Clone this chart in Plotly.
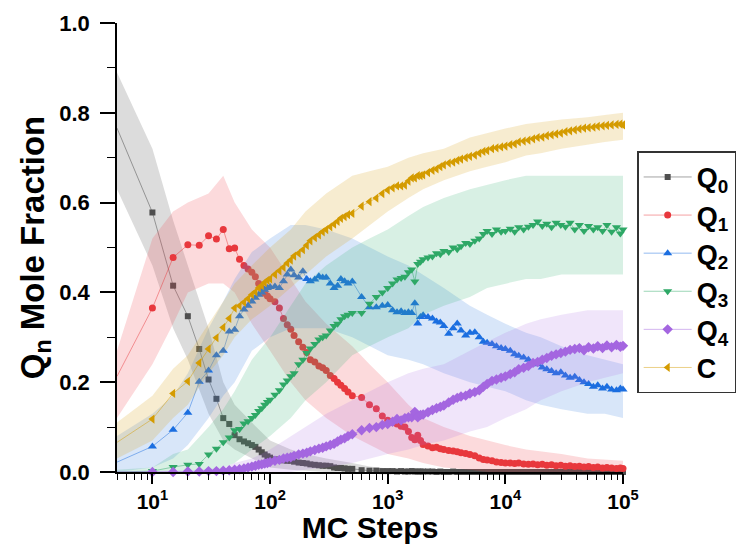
import math
import plotly.graph_objects as go

# ---------------- data ----------------
steps = [5, 10, 15, 20, 25, 30, 35, 40, 45, 50,
         55, 60, 65, 70, 75, 80, 85, 90, 95, 100,
         110, 120, 130, 140, 150, 160, 175, 190, 205, 220,
         240, 260, 280, 300, 325, 350, 375, 400, 430, 460, 500,
         600, 700, 800, 900, 1000, 1100, 1200, 1300, 1400, 1500, 1600, 1700, 1800, 1900, 2000,
         2200, 2400, 2600, 2800, 3000, 3300, 3600, 3900, 4200, 4600, 5000, 5500, 6000, 6500,
         7000, 7700, 8400, 9200, 10000,
         11000, 12000, 13000, 14300, 15700, 17200, 18800, 20600, 22500, 24700, 27000, 29600,
         32400, 35500, 38900, 42600, 46600, 51000, 56000, 61000, 67000, 73000, 80000, 88000,
         95000, 100000]

q0 = [0.766, 0.578, 0.415, 0.347, 0.274, 0.206, 0.163, 0.120, 0.107, 0.082,
      0.073, 0.068, 0.064, 0.060, 0.056, 0.050, 0.044, 0.039, 0.035, 0.032,
      0.028, 0.027, 0.026, 0.025, 0.025, 0.023, 0.021, 0.020, 0.019, 0.017,
      0.016, 0.015, 0.014, 0.014, 0.013, 0.010, 0.009, 0.009, 0.008, 0.007, 0.007,
      0.004, 0.003, 0.003, 0.002, 0.002, 0.002, 0.001, 0.002, 0.001, 0.001, 0.002, 0.001, 0.001, 0.001, 0.001,
      0.001, 0.001, 0.000, 0.001, 0.000, 0.000, 0.001, 0.000, 0.000, 0.000, 0.000, 0.000, 0.000, 0.000,
      0.000, 0.000, 0.000, 0.000, 0.000,
      0.000, 0.000, 0.000, 0.000, 0.000, 0.000, 0.000, 0.000, 0.000, 0.000, 0.000, 0.000,
      0.000, 0.000, 0.000, 0.000, 0.000, 0.000, 0.000, 0.000, 0.000, 0.000, 0.000, 0.000,
      0.000, 0.000]

q1 = [0.213, 0.365, 0.478, 0.506, 0.505, 0.526, 0.519, 0.540, 0.497, 0.499,
      0.474, 0.460, 0.452, 0.445, 0.435, 0.420, 0.410, 0.398, 0.392, 0.386,
      0.379, 0.365, 0.342, 0.328, 0.318, 0.304, 0.290, 0.278, 0.266, 0.250,
      0.245, 0.236, 0.232, 0.226, 0.215, 0.208, 0.200, 0.193, 0.186, 0.178, 0.170,
      0.166, 0.150, 0.141, 0.125, 0.115, 0.110, 0.107, 0.102, 0.100, 0.090, 0.077, 0.072, 0.082, 0.070, 0.061,
      0.058, 0.054, 0.055, 0.052, 0.050, 0.048, 0.047, 0.045, 0.043, 0.041, 0.039, 0.036, 0.031, 0.028,
      0.027, 0.025, 0.022, 0.021, 0.020,
      0.020, 0.019, 0.020, 0.018, 0.017, 0.018, 0.016, 0.017, 0.015, 0.016, 0.014, 0.015,
      0.013, 0.014, 0.012, 0.013, 0.011, 0.012, 0.010, 0.011, 0.009, 0.010, 0.009, 0.008,
      0.009, 0.008]

q2 = [0.022, 0.057, 0.094, 0.132, 0.201, 0.226, 0.260, 0.270, 0.313, 0.317,
      0.347, 0.362, 0.370, 0.380, 0.388, 0.395, 0.400, 0.406, 0.410, 0.412,
      0.413, 0.410, 0.425, 0.440, 0.451, 0.438, 0.433, 0.447, 0.430, 0.425,
      0.429, 0.436, 0.433, 0.433, 0.420, 0.410, 0.415, 0.430, 0.425, 0.420, 0.424,
      0.390, 0.367, 0.367, 0.370, 0.372, 0.360, 0.356, 0.358, 0.354, 0.356, 0.354, 0.376, 0.331, 0.345, 0.349,
      0.345, 0.342, 0.335, 0.333, 0.325, 0.308, 0.320, 0.331, 0.315, 0.304, 0.310, 0.311, 0.300, 0.290,
      0.288, 0.285, 0.280, 0.276, 0.274,
      0.270, 0.262, 0.259, 0.255, 0.250, 0.243, 0.240, 0.233, 0.229, 0.225, 0.220, 0.222,
      0.215, 0.210, 0.212, 0.205, 0.200, 0.196, 0.190, 0.193, 0.186, 0.190, 0.184, 0.182,
      0.186, 0.184]

q3 = [0.000, 0.002, 0.011, 0.016, 0.018, 0.039, 0.052, 0.066, 0.077, 0.093,
      0.096, 0.108, 0.113, 0.120, 0.127, 0.136, 0.142, 0.150, 0.156, 0.161,
      0.172, 0.182, 0.195, 0.204, 0.213, 0.220, 0.240, 0.250, 0.265, 0.275,
      0.285, 0.295, 0.300, 0.304, 0.315, 0.325, 0.330, 0.340, 0.347, 0.350, 0.354,
      0.354, 0.375, 0.390, 0.400, 0.410, 0.420, 0.429, 0.432, 0.435, 0.445, 0.451, 0.424, 0.463, 0.468, 0.474,
      0.478, 0.480, 0.487, 0.485, 0.492, 0.490, 0.500, 0.496, 0.503, 0.510, 0.508, 0.515, 0.520, 0.530,
      0.537, 0.530, 0.540, 0.535, 0.537,
      0.542, 0.535, 0.545, 0.540, 0.546, 0.550, 0.558, 0.548, 0.553, 0.545, 0.555, 0.550,
      0.546, 0.555, 0.540, 0.550, 0.537, 0.548, 0.540, 0.545, 0.537, 0.550, 0.535, 0.545,
      0.531, 0.540]

q4 = [0.000, 0.000, 0.000, 0.001, 0.001, 0.002, 0.002, 0.003, 0.004, 0.005,
      0.006, 0.008, 0.010, 0.012, 0.014, 0.016, 0.017, 0.019, 0.020, 0.022,
      0.025, 0.027, 0.030, 0.032, 0.033, 0.036, 0.039, 0.041, 0.043, 0.046,
      0.049, 0.052, 0.054, 0.057, 0.060, 0.063, 0.068, 0.072, 0.075, 0.080, 0.084,
      0.093, 0.098, 0.100, 0.105, 0.107, 0.112, 0.118, 0.115, 0.120, 0.122, 0.122, 0.134, 0.122, 0.127, 0.128,
      0.133, 0.138, 0.142, 0.145, 0.148, 0.155, 0.161, 0.165, 0.168, 0.170, 0.175, 0.178, 0.182, 0.190,
      0.196, 0.203, 0.206, 0.210, 0.213,
      0.218, 0.222, 0.229, 0.232, 0.236, 0.243, 0.245, 0.250, 0.254, 0.259, 0.262, 0.265,
      0.268, 0.272, 0.274, 0.276, 0.271, 0.278, 0.275, 0.280, 0.276, 0.282, 0.278, 0.283,
      0.279, 0.281]

cc = [0.066, 0.118, 0.175, 0.202, 0.243, 0.274, 0.299, 0.322, 0.342, 0.365,
      0.370, 0.378, 0.386, 0.395, 0.401, 0.410, 0.415, 0.422, 0.427, 0.430,
      0.440, 0.448, 0.456, 0.465, 0.472, 0.481, 0.487, 0.495, 0.505, 0.515,
      0.522, 0.528, 0.535, 0.540, 0.546, 0.552, 0.558, 0.565, 0.569, 0.573, 0.576,
      0.592, 0.602, 0.610, 0.620, 0.628, 0.633, 0.637, 0.637, 0.639, 0.648, 0.655, 0.655, 0.660, 0.660, 0.662,
      0.667, 0.672, 0.675, 0.680, 0.684, 0.688, 0.690, 0.694, 0.697, 0.700, 0.703, 0.706, 0.710, 0.714,
      0.716, 0.720, 0.722, 0.724, 0.726,
      0.729, 0.731, 0.735, 0.737, 0.739, 0.742, 0.745, 0.746, 0.749, 0.751, 0.753, 0.755,
      0.758, 0.760, 0.762, 0.764, 0.766, 0.767, 0.768, 0.770, 0.771, 0.772, 0.773, 0.774,
      0.775, 0.773]

# spread bands (lower / upper envelope)
band_steps = [5, 10, 15, 20, 30, 40, 50, 70, 100, 150, 200, 300, 500, 700, 1000, 1500,
              2000, 3000, 5000, 7000, 10000, 15000, 20000, 30000, 50000, 70000, 100000]

q0_lo = [0.63, 0.46, 0.32, 0.25, 0.13, 0.07, 0.05, 0.03, 0.01, 0.005, 0.003, 0, 0, 0, 0, 0,
         0, 0, 0, 0, 0, 0, 0, 0, 0, 0, 0]
q0_hi = [0.89, 0.72, 0.56, 0.46, 0.32, 0.20, 0.15, 0.11, 0.07, 0.05, 0.04, 0.03, 0.02, 0.012, 0.008, 0.006,
         0.005, 0.004, 0.003, 0.002, 0.002, 0.002, 0.001, 0.001, 0.001, 0.001, 0.001]

q1_lo = [0.12, 0.24, 0.33, 0.40, 0.42, 0.42, 0.40, 0.33, 0.27, 0.20, 0.16, 0.12, 0.08, 0.06, 0.04, 0.03,
         0.02, 0.01, 0.005, 0, 0, 0, 0, 0, 0, 0, 0]
q1_hi = [0.27, 0.52, 0.58, 0.60, 0.62, 0.66, 0.60, 0.54, 0.50, 0.43, 0.38, 0.33, 0.28, 0.24, 0.20, 0.15,
         0.12, 0.10, 0.08, 0.07, 0.06, 0.05, 0.045, 0.04, 0.03, 0.028, 0.025]

q2_lo = [0.0, 0.01, 0.03, 0.06, 0.12, 0.17, 0.20, 0.27, 0.30, 0.32, 0.32, 0.32, 0.30, 0.28, 0.26, 0.25,
         0.24, 0.22, 0.20, 0.19, 0.18, 0.16, 0.15, 0.14, 0.13, 0.13, 0.12]
q2_hi = [0.08, 0.13, 0.17, 0.22, 0.32, 0.38, 0.43, 0.49, 0.52, 0.55, 0.55, 0.54, 0.52, 0.50, 0.48, 0.46,
         0.44, 0.41, 0.37, 0.35, 0.33, 0.31, 0.30, 0.28, 0.26, 0.25, 0.24]

q3_lo = [0, 0, 0, 0, 0, 0.01, 0.02, 0.05, 0.08, 0.12, 0.16, 0.20, 0.26, 0.28, 0.30, 0.32,
         0.35, 0.37, 0.39, 0.41, 0.42, 0.43, 0.43, 0.44, 0.44, 0.44, 0.44]
q3_hi = [0.005, 0.01, 0.04, 0.05, 0.10, 0.14, 0.18, 0.25, 0.30, 0.37, 0.42, 0.46, 0.50, 0.52, 0.54, 0.57,
         0.59, 0.61, 0.63, 0.64, 0.65, 0.66, 0.66, 0.66, 0.66, 0.66, 0.66]

q4_lo = [0, 0, 0, 0, 0, 0, 0, 0, 0, 0, 0.005, 0.01, 0.02, 0.03, 0.04, 0.05,
         0.06, 0.07, 0.09, 0.10, 0.12, 0.14, 0.16, 0.18, 0.20, 0.21, 0.22]
q4_hi = [0.002, 0.002, 0.003, 0.004, 0.006, 0.01, 0.02, 0.03, 0.05, 0.08, 0.10, 0.13, 0.16, 0.18, 0.20, 0.22,
         0.23, 0.24, 0.27, 0.29, 0.31, 0.33, 0.34, 0.35, 0.36, 0.36, 0.36]

cc_lo = [0.03, 0.07, 0.12, 0.15, 0.22, 0.26, 0.30, 0.34, 0.37, 0.41, 0.44, 0.48, 0.52, 0.55, 0.58, 0.61,
         0.63, 0.65, 0.67, 0.68, 0.69, 0.705, 0.71, 0.72, 0.73, 0.735, 0.74]
cc_hi = [0.11, 0.17, 0.23, 0.26, 0.33, 0.38, 0.42, 0.46, 0.50, 0.54, 0.58, 0.62, 0.66, 0.67, 0.68, 0.70,
         0.71, 0.72, 0.745, 0.755, 0.765, 0.775, 0.78, 0.785, 0.79, 0.795, 0.80]

series_names = ["Q<sub>0</sub>", "Q<sub>1</sub>", "Q<sub>2</sub>", "Q<sub>3</sub>", "Q<sub>4</sub>", "C"]

x_tick_vals = [10, 100, 1000, 10000, 100000]
x_tick_text = ["10<sup>1</sup>", "10<sup>2</sup>", "10<sup>3</sup>", "10<sup>4</sup>", "10<sup>5</sup>"]
y_tick_vals = [0.0, 0.2, 0.4, 0.6, 0.8, 1.0]
y_tick_text = ["0.0", "0.2", "0.4", "0.6", "0.8", "1.0"]

# ---------------- styling ----------------
FONT = "Liberation Sans, Arial, sans-serif"
styles = [
    # marker color, line color, band color, symbol, size
    ("#4f4f4f", "rgba(90,90,90,0.7)", "rgba(140,140,140,0.30)", "square", 6),
    ("#e8383d", "rgba(232,56,61,0.6)", "rgba(240,70,80,0.20)", "circle", 7),
    ("#1b6ee0", "rgba(27,110,224,0.6)", "rgba(60,130,225,0.20)", "triangle-up", 8),
    ("#2ea866", "rgba(46,168,102,0.6)", "rgba(60,180,120,0.20)", "triangle-down", 8),
    ("#a466e0", "rgba(164,102,224,0.6)", "rgba(170,110,225,0.18)", "diamond", 8),
    ("#d49b00", "rgba(212,155,0,0.6)", "rgba(220,170,40,0.22)", "triangle-left", 8),
]

values = [q0, q1, q2, q3, q4, cc]
lows = [q0_lo, q1_lo, q2_lo, q3_lo, q4_lo, cc_lo]
highs = [q0_hi, q1_hi, q2_hi, q3_hi, q4_hi, cc_hi]

for arr in values:
    if len(arr) != len(steps):
        raise ValueError("length mismatch %d vs %d" % (len(arr), len(steps)))
for arr in lows + highs:
    if len(arr) != len(band_steps):
        raise ValueError("band length mismatch %d" % len(arr))

fig = go.Figure()
for name, yv, lo, hi, (mcol, lcol, bcol, sym, sz) in zip(series_names, values, lows, highs, styles):
    fig.add_trace(go.Scatter(
        x=band_steps + band_steps[::-1], y=lo + hi[::-1],
        fill="toself", fillcolor=bcol, line=dict(width=0), mode="lines",
        hoverinfo="skip", showlegend=False))
    fig.add_trace(go.Scatter(
        x=steps, y=yv, mode="lines+markers", name="<b>" + name + "</b>",
        line=dict(color=lcol, width=0.8),
        marker=dict(symbol=sym, size=sz, color=mcol, line=dict(width=0)),
        cliponaxis=False))

minor_x = []
for k in range(0, 5):
    for m in range(2, 10):
        v = m * 10 ** k
        if 5 <= v <= 100000:
            minor_x.append(v)

# the page adds an 8 px body margin, so the figure is 8 px smaller and offset
fig.update_layout(
    width=737, height=536,
    margin=dict(l=109, r=122, t=15, b=72, autoexpand=False),
    paper_bgcolor="white", plot_bgcolor="white",
    font=dict(family=FONT, color="black"),
    showlegend=True,
    legend=dict(
        x=1.028, y=0.714, xanchor="left", yanchor="top",
        bordercolor="#333333", borderwidth=1.5, bgcolor="white",
        font=dict(family=FONT, size=27, color="black"),
        tracegroupgap=0, itemwidth=48,
    ),
    xaxis=dict(
        type="log", range=[math.log10(5), 5], automargin=False,
        showline=True, linecolor="black", linewidth=1.5,
        showgrid=False, zeroline=False,
        ticks="outside", ticklen=10, tickwidth=1.5, tickcolor="black",
        tickmode="array", tickvals=x_tick_vals, ticktext=x_tick_text,
        tickfont=dict(family=FONT, size=21, color="black", weight="bold"),
        minor=dict(ticks="outside", ticklen=6, tickwidth=1.2, tickcolor="black",
                   tickmode="array", tickvals=minor_x, showgrid=False),
        title=dict(text="<b>MC Steps</b>", font=dict(family=FONT, size=30, color="black"), standoff=7),
    ),
    yaxis=dict(
        range=[0, 1.0], automargin=False,
        showline=True, linecolor="black", linewidth=1.5,
        showgrid=False, zeroline=False,
        ticks="outside", ticklen=15, tickwidth=1.5, tickcolor="black",
        tickmode="array", tickvals=y_tick_vals, ticktext=y_tick_text,
        tickfont=dict(family=FONT, size=22, color="black", weight="bold"),
        ticklabelstandoff=6,
        minor=dict(ticks="outside", ticklen=8, tickwidth=1.2, tickcolor="black",
                   dtick=0.1, tick0=0, showgrid=False),
        title=dict(text="<b>Q<sub>n</sub> Mole Fraction</b>", font=dict(family=FONT, size=33, color="black"), standoff=5),
    ),
)

fig.write_html("out.html")
